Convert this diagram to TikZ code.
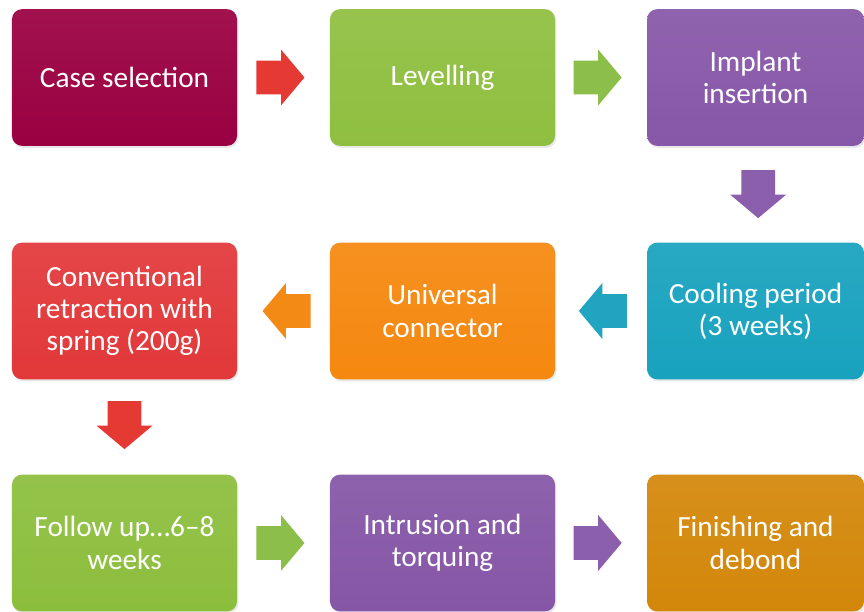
\documentclass[tikz,border=0pt]{standalone}
\usepackage{fontspec}
\setmainfont{Carlito}
\usetikzlibrary{shapes.arrows,shadows,calc}

\definecolor{caseRed}{HTML}{9A0041}
\definecolor{levGreen}{HTML}{8FBF40}
\definecolor{implPurple}{HTML}{8757A8}
\definecolor{coolTeal}{HTML}{18A2BE}
\definecolor{uniOrange}{HTML}{F5880F}
\definecolor{convRed}{HTML}{E2383A}
\definecolor{fupGreen}{HTML}{8CBE3D}
\definecolor{intrPurple}{HTML}{8556A6}
\definecolor{finOchre}{HTML}{D3870A}
\definecolor{arrRed}{HTML}{E53A33}
\definecolor{arrGreen}{HTML}{8CBF4A}
\definecolor{arrPurple}{HTML}{8C5FAD}
\definecolor{arrTeal}{HTML}{20A4BF}
\definecolor{arrOrange}{HTML}{F38A15}

\tikzset{
  stage/.style={rectangle, rounded corners=8.5pt, minimum width=6.75cm, minimum height=4.1cm,
    top color=#1!93!white, bottom color=#1, text=white, align=center,
    font=\fontsize{25}{27.5}\selectfont,
    drop shadow={opacity=0.18, shadow xshift=0.04cm, shadow yshift=-0.06cm}},
  blk/.style={single arrow, fill=#1, draw=none, inner sep=0.5cm,
    minimum height=1.42cm, anchor=tip,
    single arrow head extend=0.33cm, single arrow tip angle=100},
}

\begin{document}
\begin{tikzpicture}[x=0.03cm, y=-0.03cm]
\useasboundingbox[fill=white] (0,0) rectangle (864,611);

% first row
\node[stage=caseRed] (case) at (124.5,77.5) {Case selection};
\node[stage=levGreen] (lev) at (442.5,77.5) {Levelling};
\node[stage=implPurple, minimum width=6.5cm] (impl) at (755.5,77.5) {Implant\\insertion};

% second row
\node[stage=coolTeal, minimum width=6.5cm] (cool) at (755.5,311) {Cooling period\\(3 weeks)};
\node[stage=uniOrange] (uni) at (442.5,311) {Universal\\connector};
\node[stage=convRed] (conv) at (124.5,311) {Conventional\\retraction with\\spring (200g)};

% third row
\node[stage=fupGreen] (fup) at (124.5,543) {Follow up\ldots6--8\\weeks};
\node[stage=intrPurple] (intr) at (442.5,543) {Intrusion and\\torquing};
\node[stage=finOchre, minimum width=6.5cm] (fin) at (755.5,543) {Finishing and\\debond};

% block arrows, tip just short of the next stage
\node[blk=arrRed] (a1) at ([xshift=-0.75cm]lev.west) {};
\node[blk=arrGreen] (a2) at ([xshift=-0.75cm]impl.west) {};
\node[blk=arrPurple, shape border rotate=270] (a3) at ([xshift=0.08cm, yshift=0.72cm]cool.north) {};
\node[blk=arrTeal, shape border rotate=180] (a4) at ([xshift=0.7cm]uni.east) {};
\node[blk=arrOrange, shape border rotate=180] (a5) at ([xshift=0.75cm]conv.east) {};
\node[blk=arrRed, shape border rotate=270] (a6) at ([yshift=0.75cm]fup.north) {};
\node[blk=arrGreen] (a7) at ([xshift=-0.75cm]intr.west) {};
\node[blk=arrPurple] (a8) at ([xshift=-0.75cm]fin.west) {};

\end{tikzpicture}
\end{document}
